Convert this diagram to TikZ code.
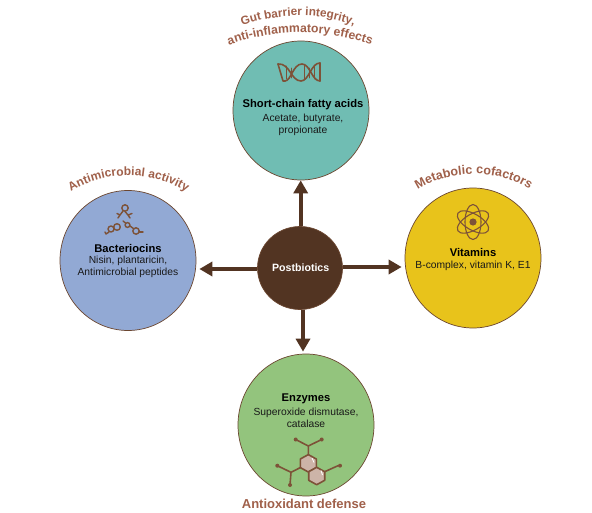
\documentclass[tikz,border=0pt]{standalone}
\usepackage{fontspec}
\setmainfont{Liberation Sans}
\usetikzlibrary{shapes.geometric,arrows.meta,decorations.text}
\definecolor{brownc}{HTML}{523422}
\definecolor{edgec}{HTML}{6B4630}
\definecolor{iconc}{HTML}{7D5238}
\definecolor{labelc}{HTML}{A0604A}
\definecolor{tealc}{HTML}{70BDB3}
\definecolor{bluec}{HTML}{92A9D4}
\definecolor{yellowc}{HTML}{E8C31B}
\definecolor{greenc}{HTML}{93C47D}
\definecolor{ringc}{HTML}{CDB4A8}
\tikzset{
  x=1pt,y=-1pt,
  bubble/.style={ellipse,draw=edgec,line width=0.7pt,inner sep=0pt},
  head/.style={font=\fontsize{11.2}{13}\selectfont\bfseries,text=black,inner sep=0pt},
  body/.style={font=\fontsize{10.3}{12}\selectfont,text=black!90,inner sep=0pt,align=center},
  spoke/.style={draw=brownc,line width=3.8pt,-{Triangle[length=13pt,width=14pt]}},
  icon/.style={draw=iconc,line width=1.4pt,line cap=round,line join=round},
  curved/.style={decorate,decoration={text along path,text align=center,text={#1}}},
}
\newcommand{\lab}[1]{\fontsize{#1}{13}\selectfont\bfseries\color{labelc}}
\begin{document}
\begin{tikzpicture}
\useasboundingbox (0,0) rectangle (592,513);
\fill[white] (0,0) rectangle (592,513);
% circles
\node[bubble,fill=tealc,minimum width=136pt,minimum height=139pt] (top) at (301,110.5) {};
\node[bubble,fill=bluec,minimum width=136pt,minimum height=140pt] (left) at (128,260.5) {};
\node[bubble,fill=yellowc,minimum width=136pt,minimum height=140pt] (right) at (473,258) {};
\node[bubble,fill=greenc,minimum width=136pt,minimum height=142pt] (bot) at (306,425) {};
\node[bubble,fill=brownc,minimum width=85pt,minimum height=83pt] (core) at (300,268) {};
% arrows
\draw[spoke] ([xshift=.7pt]core.north) -- ([xshift=.7pt]core.north |- top.south);
\draw[spoke,shorten >=3pt] ([yshift=-1pt]core.west) -- ([yshift=-1pt]core.west -| left.east);
\draw[spoke,shorten >=3pt] ([yshift=1pt]core.east) -- ([yshift=1pt]core.east -| right.west);
\draw[spoke,shorten >=2pt] ([xshift=3pt]core.south) -- ([xshift=3pt]core.south |- bot.north);
% texts
\node[font=\fontsize{10.6}{12}\selectfont\bfseries,text=white,inner sep=0pt] (coretxt) at (300.7,268) {Postbiotics};
\node[head] (toph) at (303,105) {Short-chain fatty acids};
\node[body] (topb) at (303,125) {Acetate, butyrate,\\propionate};
\node[head] (lefth) at (128,248) {Bacteriocins};
\node[body] (leftb) at (128,267) {Nisin, plantaricin,\\Antimicrobial peptides};
\node[head] (righth) at (473,252) {Vitamins};
\node[body] (rightb) at (473,266) {B-complex, vitamin K, E1};
\node[head] (both) at (306,399) {Enzymes};
\node[body] (botb) at (306,418) {Superoxide dismutase,\\catalase};
% curved labels
\path[curved={|\lab{11.8}|Gut barrier integrity,}] (238,27) .. controls (280,12) and (320,12) .. (358,27);
\path[curved={|\lab{12.2}|anti-inflammatory effects}] (224,47) .. controls (270,28) and (330,28) .. (376,47);
\path[curved={|\lab{12}|Antimicrobial activity}] (62,198) .. controls (100,168) and (158,168) .. (195,198);
\path[curved={|\lab{12.5}|Metabolic cofactors}] (410,195) .. controls (445,167) and (505,167) .. (537,195);
\node[font=\fontsize{13}{14}\selectfont\bfseries,text=labelc,inner sep=0pt,anchor=base] (antiox) at (304,508) {Antioxidant defense};
% DNA icon
\draw[icon,line width=1.6pt] (278,64) .. controls (290,63) and (291,81) .. (301,81) .. controls (309,81) and (311,63) .. (320,63);
\draw[icon,line width=1.6pt] (285,81) .. controls (291,81) and (293,64) .. (302,64) .. controls (310,64) and (312,81) .. (320,81);
\draw[icon,line width=1.6pt] (278,64) -- (283,81) -- (285,81) (320,63) -- (320,81);
\foreach \x/\a/\b in {286/66/79,291/68/78,304/65/79,309/68/78,314/65/79}{\draw[icon,line width=.8pt] (\x,\a) -- (\x,\b);}
% atom icon
\begin{scope}[shift={(473,222)}]
  \foreach \r in {30,90,150}{\draw[icon,line width=1.1pt,rotate=\r] (0,0) ellipse [x radius=17.5,y radius=8];}
  \fill[iconc] (0,0) circle [radius=3.6];
\end{scope}
% bacteriocin molecule icon
\draw[icon] (125,208) circle [radius=3.2];
\draw[icon] (123,211) -- (120,215) -- (117,213.5) (120,215) -- (118,218) (125,211.5) -- (128,215) -- (132,213.5) (128,215) -- (130,218);
\draw[icon] (117,227) circle [radius=3.3] (111,229) circle [radius=3];
\draw[icon] (109,232) -- (106,234) -- (105,232);
\draw[icon] (127.5,225) circle [radius=2.4];
\draw[icon] (123,221) -- (125.5,223) (130,226) -- (134,229);
\draw[icon] (136,231) circle [radius=3.2];
\draw[icon] (139,232) -- (143,232);
% enzyme molecule icon
\foreach \cx/\cy in {308.3/463.3,316.7/476}{
  \filldraw[icon,fill=ringc,line width=1.6pt] (\cx,\cy-8.7) -- (\cx+8,\cy-4.3) -- (\cx+8,\cy+4.3) -- (\cx,\cy+8.7) -- (\cx-8,\cy+4.3) -- (\cx-8,\cy-4.3) -- cycle;
}
\draw[white,line width=.8pt] (312,458) -- (314,462.5) (321,470.5) -- (322.5,475);
\draw[icon,line width=1.6pt] (308.3,454.6) -- (308.3,446) (295.7,439.5) -- (308.3,446) -- (321.7,439.5);
\draw[icon,line width=1.6pt] (300.3,467.6) -- (291,472.3) (277.3,465.7) -- (291,472.3) -- (290,485);
\draw[icon,line width=1.6pt] (324.7,471.7) -- (338,465.7);
\foreach \dx/\dy in {295.7/439.5,321.7/439.5,277.3/465.7,290/485,340/465.7}{\fill[iconc] (\dx,\dy) circle [radius=2];}
\end{tikzpicture}
\end{document}
